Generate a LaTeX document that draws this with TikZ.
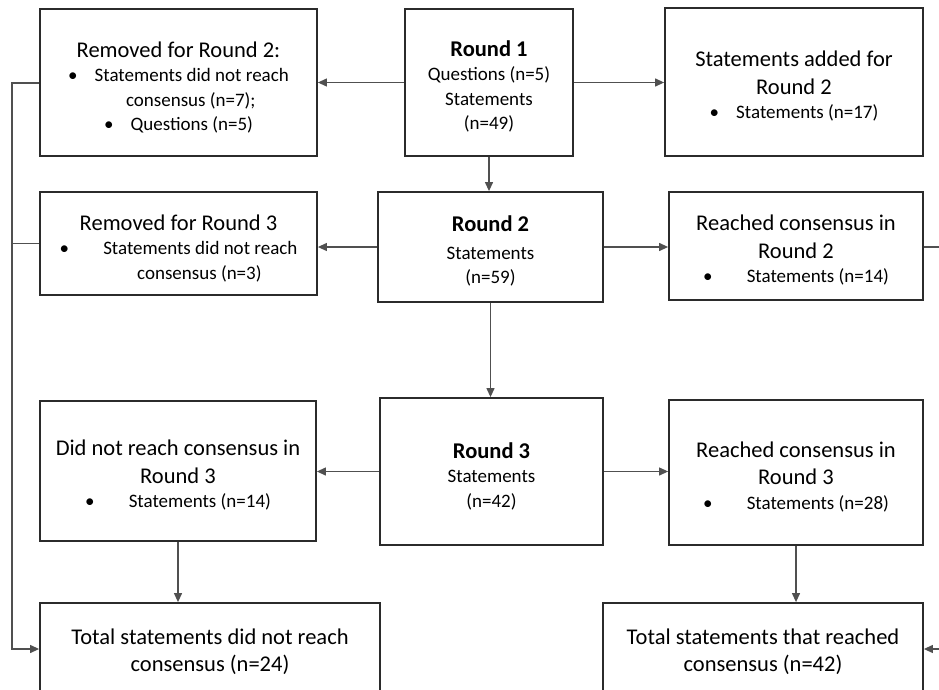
\documentclass[tikz,border=0pt]{standalone}
\usepackage{fontspec}
\setmainfont{Carlito}
\usetikzlibrary{arrows.meta}
\definecolor{boxc}{HTML}{2B2B2B}
\definecolor{linec}{HTML}{505050}
\newcommand\ttl[1]{{\fontsize{22.5}{27}\selectfont #1}}
\newcommand\bul{\textbullet}
\begin{document}
\begin{tikzpicture}[x=1pt,y=-1pt,
  box/.style={draw=boxc, line width=1.8pt, fill=white, inner sep=0pt},
  txt/.style={inner sep=0pt, align=center, font=\fontsize{19}{24.5}\selectfont, text=black},
  conn/.style={draw=linec, line width=1.2pt},
  arr/.style={conn, -{Triangle[length=9pt,width=8pt]}}]
\useasboundingbox (0,0) rectangle (939,690);
\clip (0,0) rectangle (939,690);

% boxes
\node[box, minimum width=277pt, minimum height=147pt] (rem2) at (178.5,82.5) {};
\node[box, minimum width=168pt, minimum height=147pt] (r1) at (489,82.5) {};
\node[box, minimum width=258pt, minimum height=148pt] (add2) at (794,82) {};
\node[box, minimum width=277pt, minimum height=103pt] (rem3) at (178.5,243.5) {};
\node[box, minimum width=225pt, minimum height=110pt] (r2) at (490.5,247) {};
\node[box, minimum width=254pt, minimum height=108pt] (reach2) at (796,246) {};
\node[box, minimum width=276pt, minimum height=140pt] (not3) at (178,471) {};
\node[box, minimum width=223pt, minimum height=147pt] (r3) at (491.5,471.5) {};
\node[box, minimum width=254pt, minimum height=145pt] (reach3) at (796,472.5) {};
\node[box, minimum width=340pt, minimum height=92pt] (totnot) at (210,649) {};
\node[box, minimum width=320pt, minimum height=92pt] (totreach) at (763,649) {};

% texts
\node[txt] (rem2t) at ([yshift=-5pt]rem2.center)
  {\ttl{Removed for Round 2:}\\
   \bul\hspace{0.9em}Statements did not reach\\
   \hspace{1.3em}consensus (n=7);\\
   \bul\hspace{0.9em}Questions (n=5)};
\node[txt] (r1t) at ([yshift=-4pt]r1.center)
  {{\fontsize{22.5}{27}\selectfont\bfseries Round 1}\\
   Questions (n=5)\\ Statements\\ (n=49)};
\node[txt] (add2t) at ([yshift=-4.5pt]add2.center)
  {\ttl{Statements added for}\\[3pt]\ttl{Round 2}\\
   \bul\hspace{0.9em}Statements (n=17)};
\node[txt] (rem3t) at ([yshift=-5pt]rem3.center)
  {\ttl{Removed for Round 3}\\
   \bul\hspace{1.8em}Statements did not reach\\
   \hspace{2.2em}consensus (n=3)};
\node[txt] (r2t) at ([yshift=-4pt]r2.center)
  {{\fontsize{22.5}{27}\selectfont\bfseries Round 2}\\[3pt]
   Statements\\ (n=59)};
\node[txt] (reach2t) at ([yshift=-4.5pt]reach2.center)
  {\ttl{Reached consensus in}\\[3pt]\ttl{Round 2}\\
   \bul\hspace{1.8em}Statements (n=14)};
\node[txt] (not3t) at ([yshift=-4.5pt]not3.center)
  {\ttl{Did not reach consensus in}\\[3pt]\ttl{Round 3}\\
   \bul\hspace{1.8em}Statements (n=14)};
\node[txt] (r3t) at ([yshift=-4.5pt]r3.center)
  {{\fontsize{22.5}{27}\selectfont\bfseries Round 3}\\
   Statements\\ (n=42)};
\node[txt] (reach3t) at ([yshift=-4.5pt]reach3.center)
  {\ttl{Reached consensus in}\\[3pt]\ttl{Round 3}\\
   \bul\hspace{1.8em}Statements (n=28)};
\node[txt] (totnott) at ([yshift=-2.5pt]totnot.center)
  {\ttl{Total statements did not reach}\\[3pt]\ttl{consensus (n=24)}};
\node[txt] (totreacht) at ([yshift=-2.5pt]totreach.center)
  {\ttl{Total statements that reached}\\[3pt]\ttl{consensus (n=42)}};

% connectors
\coordinate (L1) at (12,83);
\coordinate (L2) at (12,649);
\coordinate (R1) at (945,247);
\coordinate (R2) at (945,649);

\draw[arr] (r1.west) -- (r1.west -| rem2.east);
\draw[arr] (r1.east) -- (r1.east -| add2.west);
\draw[arr] (r1.south) -- (r2.north -| r1.south);
\draw[arr] (r2.west) -- (r2.west -| rem3.east);
\draw[arr] (r2.east) -- (r2.east -| reach2.west);
\draw[arr] (r2.south) -- (r3.north -| r2.south);
\draw[arr] (r3.west) -- (r3.west -| not3.east);
\draw[arr] (r3.east) -- (r3.east -| reach3.west);
\draw[arr] (not3.south) -- (totnot.north -| not3.south);
\draw[arr] (reach3.south) -- (totreach.north -| reach3.south);
\draw[arr] (rem2.west |- L1) -- (L1) -- (L2) -- (totnot.west |- L2);
\draw[conn] (rem3.west) -- (rem3.west -| L1);
\draw[arr] (reach2.east |- R1) -- (R1) -- (R2) -- (totreach.east |- R2);
\end{tikzpicture}
\end{document}
